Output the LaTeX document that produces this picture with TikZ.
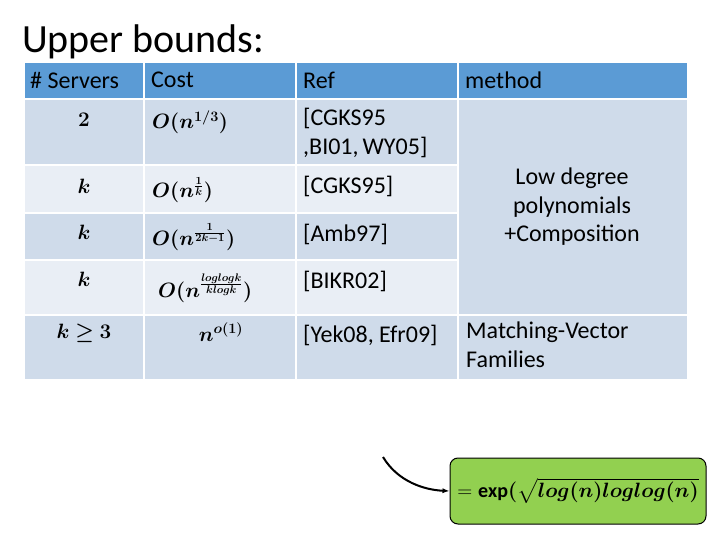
\documentclass[tikz,border=0pt]{standalone}
\usepackage{amsmath,bm}
\usepackage{fontspec}
\setmainfont{Carlito}
\usetikzlibrary{arrows.meta}
\definecolor{hdr}{HTML}{5B9BD5}
\definecolor{dk}{HTML}{CFDBEA}
\definecolor{lt}{HTML}{E9EEF5}
\definecolor{grn}{HTML}{92D050}
\tikzset{cell/.style={draw=white,line width=1.5pt},
 txt/.style={font=\fontsize{24}{28}\selectfont,anchor=west,inner sep=0pt},
 mth/.style={font=\fontsize{22}{26}\selectfont,inner sep=0pt}}
\begin{document}
\begin{tikzpicture}[x=1pt,y=-1pt]
\useasboundingbox (0,0) rectangle (720,540);
\node[anchor=west,inner sep=0pt,font=\fontsize{40}{44}\selectfont] (title) at (22,42) {Upper bounds:};
% header
\foreach \a/\b in {24/144,144/296,296/458,458/688}{\fill[hdr,cell] (\a,62) rectangle (\b,99);}
\node[txt] (h1) at (30,80) {\# Servers};
\node[txt] (h2) at (151,80) {Cost};
\node[txt] (h3) at (303,80) {Ref};
\node[txt] (h4) at (465,80) {method};
% rows
\foreach \t/\u/\c in {99/165/dk,165/213/lt,213/260/dk,260/315/lt,315/380/dk}{
 \foreach \a/\b in {24/144,144/296,296/458}{\fill[\c,cell] (\a,\t) rectangle (\b,\u);}}
\fill[dk,cell] (458,99) rectangle (688,315);
\fill[dk,cell] (458,315) rectangle (688,380);
\draw[white,line width=1.5pt] (24,99)--(688,99);
% column 1
\node[mth] (s1) at (84,120) {$\bm{2}$};
\node[mth] (s2) at (84,186) {$\bm{k}$};
\node[mth] (s3) at (84,232) {$\bm{k}$};
\node[mth] (s4) at (84,279) {$\bm{k}$};
\node[mth] (s5) at (84,333) {$\bm{k\geq 3}$};
% column 2
\node[mth,anchor=west] (c1) at (152,122) {$\bm{O(n^{1/3})}$};
\node[mth,anchor=west] (c2) at (152,190) {$\bm{O(n^{\frac{1}{k}})}$};
\node[mth,anchor=west] (c3) at (152,237) {$\bm{O(n^{\frac{1}{2k-1}})}$};
\node[mth,anchor=west] (c4) at (158,288) {$\bm{O(n^{\frac{loglogk}{klogk}})}$};
\node[mth] (c5) at (221,332) {$\bm{n^{o(1)}}$};
% column 3
\node[txt,anchor=north west,align=left,font=\fontsize{24}{29}\selectfont] (r1) at (303,108) {[CGKS95\\,BI01,\,WY05]};
\node[txt] (r2) at (303,186) {[CGKS95]};
\node[txt] (r3) at (303,234) {[Amb97]};
\node[txt] (r4) at (303,281) {[BIKR02]};
\node[txt] (r5) at (303,335) {[Yek08, Efr09]};
% column 4
\node[mth,align=center,font=\fontsize{24}{28.5}\selectfont] (m1) at (572,207) {Low degree\\polynomials\\+Composition};
\node[txt,anchor=north west,align=left,font=\fontsize{24}{29}\selectfont] (m2) at (466,322) {Matching-Vector\\Families};
% green box
\node[draw=black,line width=1pt,fill=grn,rounded corners=8pt,minimum width=256pt,minimum height=66pt,inner sep=0pt,font=\fontsize{20}{24}\selectfont] (g) at (578,491) {$=\mathbf{exp}\bm{(}\sqrt{\bm{log(n)loglog(n)}}$};
\coordinate (a0) at (383,457);
\draw[-{Latex[length=7pt]},line width=2pt] (a0) .. controls (398,482) and (425,490) .. (g.west);
\end{tikzpicture}
\end{document}
